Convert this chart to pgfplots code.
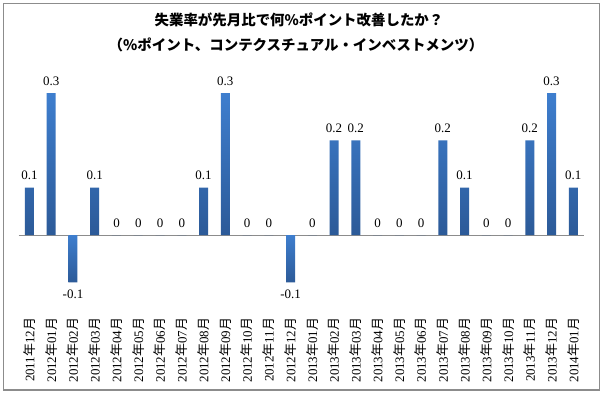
\documentclass[border=0pt]{standalone}
\usepackage{fontspec}
\setmainfont{Liberation Serif}
\newfontfamily\cjk{Noto Sans CJK JP}
\usepackage{pgfplots}
\pgfplotsset{compat=1.18}
\definecolor{bartop}{RGB}{62,126,206}
\definecolor{barbot}{RGB}{44,90,152}
\definecolor{framegray}{RGB}{140,140,140}
\newcommand\ym[2]{#1{\cjk 年}#2{\cjk 月}}
\begin{document}
\begin{tikzpicture}[x=1bp,y=1bp]
\path[fill=white,use as bounding box] (0,0) rectangle (603,396);
\draw[framegray,line width=1.3bp] (3.5,392.5) rectangle (599.5,6);
\node[font=\cjk\bfseries\fontsize{14.5}{16}\selectfont] at (299,376) {失業率が先月比で何\%ポイント改善したか？};
\node[font=\cjk\bfseries\fontsize{14.5}{16}\selectfont] at (296,351) {（\%ポイント、コンテクスチュアル・インベストメンツ）};
\begin{axis}[
  at={(18.6bp,82bp)}, anchor=south west,
  scale only axis, width=565.6bp, height=254bp,
  xmin=-0.5, xmax=25.5, ymin=-0.167, ymax=0.37,
  axis line style={draw=none},
  ytick=\empty,
  xtick={0,...,25},
  major tick length=0pt,
  xticklabels={{\ym{2011}{12}},{\ym{2012}{01}},{\ym{2012}{02}},{\ym{2012}{03}},{\ym{2012}{04}},{\ym{2012}{05}},{\ym{2012}{06}},{\ym{2012}{07}},{\ym{2012}{08}},{\ym{2012}{09}},{\ym{2012}{10}},{\ym{2012}{11}},{\ym{2012}{12}},{\ym{2013}{01}},{\ym{2013}{02}},{\ym{2013}{03}},{\ym{2013}{04}},{\ym{2013}{05}},{\ym{2013}{06}},{\ym{2013}{07}},{\ym{2013}{08}},{\ym{2013}{09}},{\ym{2013}{10}},{\ym{2013}{11}},{\ym{2013}{12}},{\ym{2014}{01}}},
  xticklabel style={rotate=90, anchor=east, font=\fontsize{13}{14}\selectfont, inner sep=3.5bp},
  ybar, bar width=9bp, bar shift=0pt,
  nodes near coords={\pgfplotspointmeta},
  point meta=explicit symbolic,
  every node near coord/.append style={font=\fontsize{13}{14}\selectfont, inner ysep=7.5bp, black},
  clip=false,
]
\draw[framegray,line width=1bp] (axis cs:-0.5,0) -- (axis cs:25.5,0);
\addplot[draw=none, top color=bartop, bottom color=barbot] coordinates {
 (0,0.1) [0.1]
 (1,0.3) [0.3]
 (3,0.1) [0.1]
 (4,0) [0]
 (5,0) [0]
 (6,0) [0]
 (7,0) [0]
 (8,0.1) [0.1]
 (9,0.3) [0.3]
 (10,0) [0]
 (11,0) [0]
 (13,0) [0]
 (14,0.2) [0.2]
 (15,0.2) [0.2]
 (16,0) [0]
 (17,0) [0]
 (18,0) [0]
 (19,0.2) [0.2]
 (20,0.1) [0.1]
 (21,0) [0]
 (22,0) [0]
 (23,0.2) [0.2]
 (24,0.3) [0.3]
 (25,0.1) [0.1]
};
\addplot[draw=none, top color=bartop, bottom color=barbot,
  every node near coord/.append style={anchor=north}] coordinates {
 (2,-0.1) [-0.1]
 (12,-0.1) [-0.1]
};
\end{axis}
\end{tikzpicture}
\end{document}
